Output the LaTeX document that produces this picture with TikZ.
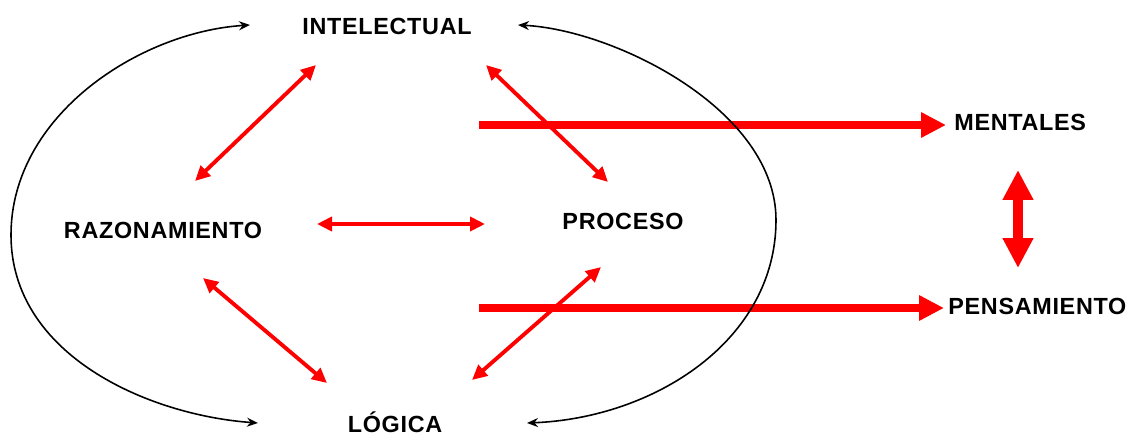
\documentclass[tikz,border=0pt]{standalone}
\usepackage{fontspec}
\setmainfont{Liberation Sans}[LetterSpace=3]
\usetikzlibrary{arrows.meta}

\begin{document}
\begin{tikzpicture}[x=0.02cm, y=-0.02cm,
        palabra/.style={font=\bfseries\fontsize{13.3}{16}\selectfont, inner sep=0.08cm, text height=0.34cm, text depth=0cm},
        flecha/.style={red, line width=2.2pt, {Triangle[length=0.3cm,width=0.28cm]}-{Triangle[length=0.3cm,width=0.28cm]}},
        gruesa/.style={red, line width=4.5pt, -{Triangle[length=0.5cm,width=0.48cm]}},
        doble/.style={red, line width=5.5pt, {Triangle[length=0.6cm,width=0.58cm]}-{Triangle[length=0.6cm,width=0.58cm]}},
        curva/.style={black, line width=0.9pt, {Stealth[length=0.22cm,width=0.18cm]}-{Stealth[length=0.22cm,width=0.18cm]}}]
        \useasboundingbox (0,0) rectangle (1133,436);

        % palabras
        \node[palabra] (int) at (387,26) {INTELECTUAL};
        \node[palabra] (raz) at (163,230) {RAZONAMIENTO};
        \node[palabra] (pro) at (623,221) {PROCESO};
        \node[palabra] (log) at (395,424) {LÓGICA};
        \node[palabra, anchor=west] (men) at (950,122) {MENTALES};
        \node[palabra, anchor=west] (pen) at (944,306) {PENSAMIENTO};

        % extremos de las flechas
        \coordinate (ir1) at (316,65);  \coordinate (ir2) at (195,181);
        \coordinate (ip1) at (486,65);  \coordinate (ip2) at (608,182);
        \coordinate (rp1) at (317,224); \coordinate (rp2) at (485,224);
        \coordinate (rl1) at (203,278); \coordinate (rl2) at (327,383);
        \coordinate (pl1) at (601,267); \coordinate (pl2) at (472,380);
        \coordinate (m0) at (479,125);
        \coordinate (p0) at (479,308);
        \coordinate (v1) at (1018,170); \coordinate (v2) at (1018,268);
        \coordinate (izq1) at (250,25); \coordinate (izq2) at (11,235); \coordinate (izq3) at (258,423);
        \coordinate (der1) at (518,25); \coordinate (der2) at (776,220); \coordinate (der3) at (527,423);

        \foreach \a/\b in {ir1/ir2,ip1/ip2,rp1/rp2,rl1/rl2,pl1/pl2} {
            \draw[flecha] (\a) -- (\b);
        }
        \draw[gruesa, shorten >=0.08cm] (m0) -- (men.west |- m0);
        \draw[gruesa] (p0) -- (pen.west |- p0);
        \draw[doble] (v1) -- (v2);

        \draw[curva] (izq1) .. controls (140,32) and (11,115) .. (izq2)
            .. controls (11,355) and (148,415) .. (izq3);
        \draw[curva] (der1) .. controls (615,30) and (776,110) .. (der2)
            .. controls (776,340) and (655,418) .. (der3);
    \end{tikzpicture}
\end{document}
